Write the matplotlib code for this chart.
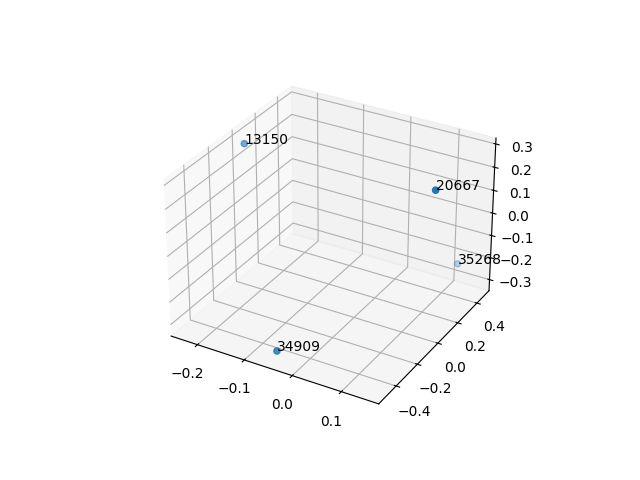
import matplotlib
matplotlib.use("Agg")
import matplotlib.pyplot as plt

# values
labels = ["13150", "20667", "35268", "34909"]
xs = [-0.23, 0.147, 0.12, -0.048]
ys = [-0.007, 0.07, 0.46, -0.49]
zs = [0.282, 0.265, -0.232, -0.308]

fig = plt.figure(figsize=(6.4, 4.8), dpi=100)
ax = fig.add_subplot(projection="3d")
ax.scatter(xs, ys, zs)
for x, y, z, lab in zip(xs, ys, zs, labels):
    ax.text(x, y, z, lab)

fig.savefig("out.png")
